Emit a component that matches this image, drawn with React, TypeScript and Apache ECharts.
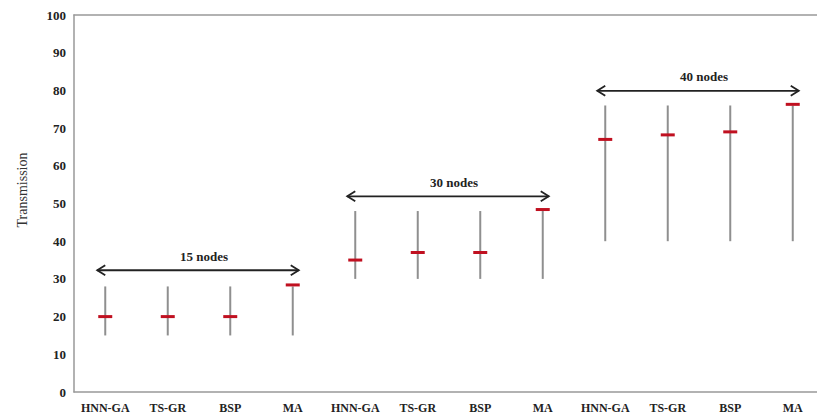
import React, { useEffect, useRef } from "react";
import * as echarts from "echarts";

const categories = ["HNN-GA", "TS-GR", "BSP", "MA", "HNN-GA", "TS-GR", "BSP", "MA", "HNN-GA", "TS-GR", "BSP", "MA"];
const minVals = [15, 15, 15, 15, 30, 30, 30, 30, 40, 40, 40, 40];
const maxVals = [28, 28, 28, 28, 48, 48, 48, 48, 76, 76, 76, 76];
const meanVals = [20, 20, 20, 28.4, 35, 37, 37, 48.4, 67, 68.2, 69, 76.3];

const groupLabels = ["15 nodes", "30 nodes", "40 nodes"];
const groupStart = [0, 4, 8];
const groupEnd = [3, 7, 11];
const groupArrowY = [32.3, 51.9, 79.9];

const yTicks = { min: 0, max: 100, interval: 10 };
const yAxisTitle = "Transmission";

export default function App() {
  const ref = useRef<HTMLDivElement>(null);
  useEffect(() => {
    if (!ref.current) return;
    const chart = echarts.init(ref.current, undefined, { renderer: "svg" });
    const serif = "Liberation Serif";
    const axisLine = { show: true, lineStyle: { color: "#999", width: 1.5 } };
    chart.setOption({
      animation: false,
      grid: {
        left: 74,
        right: 10,
        top: 15,
        bottom: 26,
      },
      graphic: [
        {
          type: "text",
          x: 22,
          y: 190,
          rotation: Math.PI / 2,
          style: {
            text: yAxisTitle,
            fontFamily: serif,
            fontSize: 14,
            fill: "#333",
            align: "center",
            verticalAlign: "middle",
          },
        },
      ],
      xAxis: [
        {
          type: "category",
          data: categories,
          axisLine,
          axisTick: { show: false },
          axisLabel: { fontFamily: serif, fontWeight: "bold", fontSize: 12, color: "#222", margin: 10, interval: 0 },
        },
        {
          type: "category",
          position: "top",
          data: categories,
          axisLine,
          axisTick: { show: false },
          axisLabel: { show: false },
        },
      ],
      yAxis: {
        type: "value",
        min: yTicks.min,
        max: yTicks.max,
        interval: yTicks.interval,
        axisLine,
        axisTick: { show: false },
        splitLine: { show: false },
        axisLabel: { fontFamily: serif, fontWeight: "bold", fontSize: 13, color: "#222", margin: 8 },
      },
      series: [
        {
          type: "custom",
          data: categories.map((_, i) => [i, minVals[i], maxVals[i], meanVals[i]]),
          renderItem: (params: any, api: any) => {
            const x = api.value(0);
            const lo = api.coord([x, api.value(1)]);
            const hi = api.coord([x, api.value(2)]);
            const m = api.coord([x, api.value(3)]);
            return {
              type: "group",
              children: [
                { type: "line", shape: { x1: lo[0], y1: lo[1], x2: hi[0], y2: hi[1] }, style: { stroke: "#8f8f8f", lineWidth: 2 } },
                { type: "rect", shape: { x: m[0] - 7, y: m[1] - 1.5, width: 14, height: 3 }, style: { fill: "#c01020" } },
              ],
            };
          },
        },
        {
          type: "custom",
          data: groupLabels.map((_, i) => [groupStart[i], groupEnd[i], groupArrowY[i], i]),
          renderItem: (params: any, api: any) => {
            const a = api.coord([api.value(0), api.value(2)]);
            const b = api.coord([api.value(1), api.value(2)]);
            const x1 = a[0] - 8;
            const x2 = b[0] + 6;
            const y = a[1];
            const st = { stroke: "#222", lineWidth: 1.8, fill: null };
            return {
              type: "group",
              children: [
                { type: "line", shape: { x1, y1: y, x2, y2: y }, style: st },
                { type: "polyline", shape: { points: [[x1 + 8, y - 5], [x1, y], [x1 + 8, y + 5]] }, style: st },
                { type: "polyline", shape: { points: [[x2 - 8, y - 5], [x2, y], [x2 - 8, y + 5]] }, style: st },
                {
                  type: "text",
                  style: {
                    x: (x1 + x2) / 2 + 6,
                    y: y - 14,
                    text: groupLabels[api.value(3)],
                    align: "center",
                    verticalAlign: "middle",
                    fontFamily: serif,
                    fontWeight: "bold",
                    fontSize: 13,
                    fill: "#222",
                  },
                },
              ],
            };
          },
        },
      ],
    });
    return () => chart.dispose();
  }, []);
  return (
    <div style={{ position: "fixed", left: 0, top: 0, width: 817, height: 418, overflow: "hidden", background: "#fff" }}>
      <div ref={ref} style={{ width: 834, height: 418 }} />
    </div>
  );
}
